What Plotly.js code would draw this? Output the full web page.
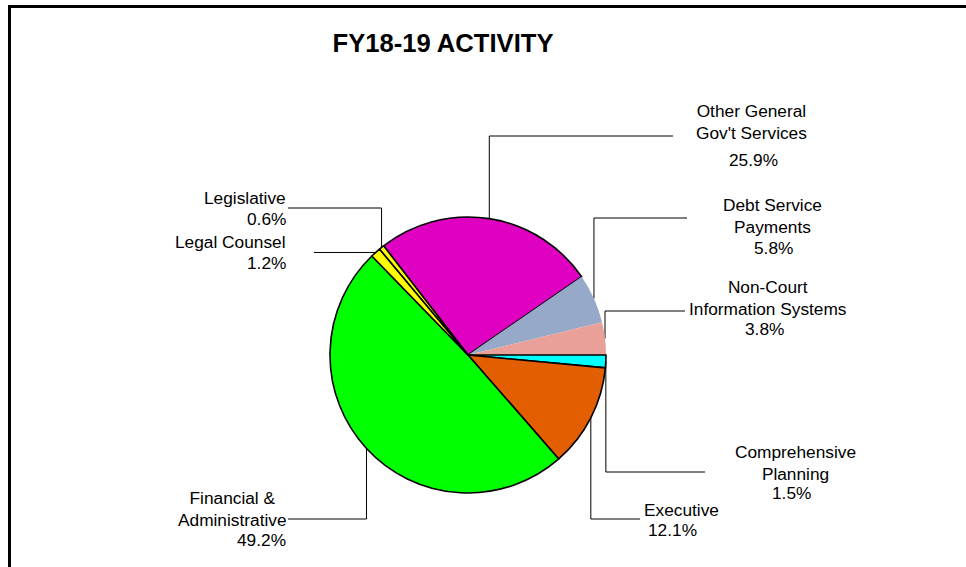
<!DOCTYPE html>
<html>
<head>
<meta charset="utf-8">
<script src="https://cdn.plot.ly/plotly-3.0.1.min.js"></script>
<style>html,body{margin:0;padding:0;background:#fff;}#chart{width:966px;height:567px;}</style>
</head>
<body>
<div id="chart"></div>
<script>
// ---- data ----
const sliceNames = ["Other General Gov't Services", "Debt Service Payments", "Non-Court Information Systems", "Comprehensive Planning", "Executive", "Financial & Administrative", "Legal Counsel", "Legislative"];
const labelText = ["Other General<br>Gov't Services", "Debt Service<br>Payments", "Non-Court<br>Information Systems", "Comprehensive<br>Planning", "Executive", "Financial &<br>Administrative", "Legal Counsel", "Legislative"];
const sliceValues = [25.9, 5.8, 3.8, 1.5, 12.1, 49.2, 1.2, 0.6];
const chartTitle = "FY18-19 ACTIVITY";

// ---- styles ----
const sliceColors = ["#DF00C2", "#97A9C8", "#E8A098", "#00FFFF", "#E25E00", "#00FF00", "#FFFF00", "#FFFF00"];
const outlineWidths = [1.6, 0, 0, 1.6, 1.6, 1.6, 1.6, 1.6];

const W = 966, H = 567;
const CX = 468, CY = 355, R = 138;
const ROT = -37.7;
const FONT = "Liberation Sans, Arial, sans-serif";
const FS = 17.3;

// label layout (pixel positions) per slice: route type, elbow, line end, text anchor
const labelLayout = [
  {route: "up",    elbowY: 136, endX: 673, tx: 751, ty: 122, align: "center", xanchor: "center", pctX: 753, pctY: 160, pctAnchor: "center"},
  {route: "up",    elbowY: 218, endX: 687, tx: 772, ty: 216, align: "center", xanchor: "center", pctX: 773, pctY: 248, pctAnchor: "center"},
  {route: "up",    elbowY: 311, endX: 685, tx: 768, ty: 298, align: "center", xanchor: "center", pctX: 764, pctY: 329, pctAnchor: "center"},
  {route: "down",  elbowY: 472, endX: 705, tx: 795, ty: 463, align: "center", xanchor: "center", pctX: 791, pctY: 493, pctAnchor: "center"},
  {route: "down",  elbowY: 519, endX: 640, tx: 681, ty: 510, align: "center", xanchor: "center", pctX: 672, pctY: 530, pctAnchor: "center"},
  {route: "down",  elbowY: 519, endX: 288, tx: 232, ty: 509, align: "center", xanchor: "center", pctX: 288, pctY: 540, pctAnchor: "right"},
  {route: "flat",  elbowY: null, endX: 314, tx: 288, ty: 242, align: "right", xanchor: "right", pctX: 288, pctY: 263, pctAnchor: "right"},
  {route: "up",    elbowY: 208, endX: 288, tx: 288, ty: 198, align: "right", xanchor: "right", pctX: 288, pctY: 219, pctAnchor: "right"}
];

const px = x => x / W;
const py = y => 1 - y / H;

// compute slice mid-angle anchor points from the data
const total = sliceValues.reduce((a, b) => a + b, 0);
let acc = 0;
const anchors = sliceValues.map(v => {
  const mid = ROT + (acc + v / 2) / total * 360;
  acc += v;
  const a = mid * Math.PI / 180;
  return [CX + R * Math.sin(a), CY - R * Math.cos(a)];
});

const shapes = [];
const annotations = [];
labelLayout.forEach((L, i) => {
  const [ax, ay] = anchors[i];
  let path;
  if (L.route === "flat") {
    path = `M${px(ax)},${py(ay)} L${px(L.endX)},${py(ay)}`;
  } else {
    path = `M${px(ax)},${py(ay)} L${px(ax)},${py(L.elbowY)} L${px(L.endX)},${py(L.elbowY)}`;
  }
  shapes.push({type: "path", xref: "paper", yref: "paper", path: path, line: {color: "#000", width: 1}, layer: "below"});
  annotations.push({xref: "paper", yref: "paper", x: px(L.tx), y: py(L.ty), xanchor: L.xanchor, yanchor: "middle",
    text: labelText[i], showarrow: false, align: L.align, font: {family: FONT, size: FS, color: "#000"}});
  annotations.push({xref: "paper", yref: "paper", x: px(L.pctX), y: py(L.pctY), xanchor: L.pctAnchor, yanchor: "middle",
    text: sliceValues[i].toFixed(1) + "%", showarrow: false, font: {family: FONT, size: FS, color: "#000"}});
});

// frame
shapes.push({type: "line", xref: "paper", yref: "paper", x0: px(9.5), x1: px(9.5), y0: py(5), y1: py(580), line: {color: "#000", width: 3}});
shapes.push({type: "line", xref: "paper", yref: "paper", x0: px(8), x1: px(980), y0: py(6.5), y1: py(6.5), line: {color: "#000", width: 3}});

const trace = {
  type: "pie",
  labels: sliceNames,
  values: sliceValues,
  sort: false,
  direction: "clockwise",
  rotation: ROT,
  textinfo: "none",
  hoverinfo: "label+percent",
  marker: {colors: sliceColors, line: {color: "#000", width: outlineWidths}},
  domain: {x: [px(CX - R), px(CX + R)], y: [py(CY + R), py(CY - R)]},
  showlegend: false
};

const layout = {
  width: W, height: H,
  margin: {l: 0, r: 0, t: 0, b: 0},
  paper_bgcolor: "#fff",
  showlegend: false,
  title: {text: "<b>" + chartTitle + "</b>", x: px(443), xanchor: "center", y: py(43), yanchor: "middle",
    font: {family: FONT, size: 25.6, color: "#000"}},
  shapes: shapes,
  annotations: annotations
};

Plotly.newPlot("chart", [trace], layout, {displayModeBar: false, staticPlot: true});
</script>
</body>
</html>
